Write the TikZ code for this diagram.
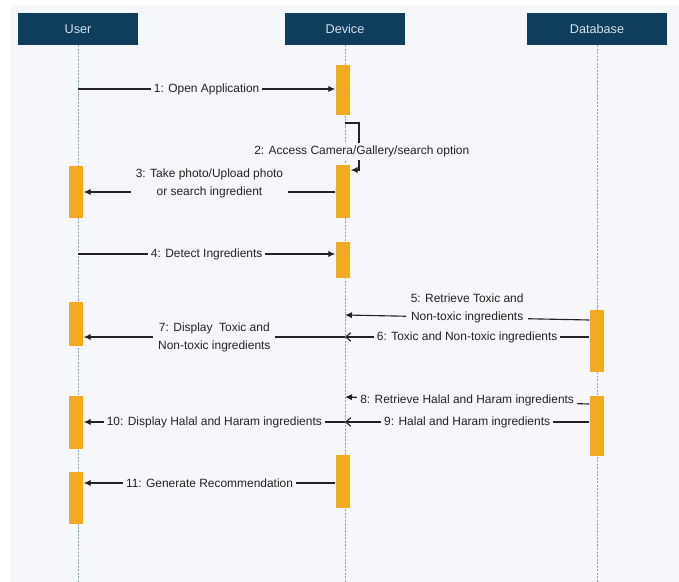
\documentclass[tikz,border=0pt]{standalone}
\usepackage{fontspec}
\setmainfont{Liberation Sans}
\usetikzlibrary{positioning,arrows.meta,calc}
\definecolor{HeadBlue}{RGB}{15,61,92}
\definecolor{HeadText}{RGB}{214,226,236}
\definecolor{BarOrange}{RGB}{242,170,32}
\definecolor{PanelGrey}{RGB}{246,247,251}
\definecolor{LineDark}{RGB}{35,35,35}
\definecolor{LifeGrey}{RGB}{145,165,185}

\begin{document}
\begin{tikzpicture}[
    x=0.025cm, y=-0.025cm,
    head/.style={rectangle, fill=HeadBlue, minimum height=0.8cm, inner sep=0,
        font=\fontsize{9}{11}\selectfont, text=HeadText},
    actbar/.style={rectangle, fill=BarOrange, minimum width=0.37cm, inner sep=0, anchor=north},
    life/.style={LifeGrey, line width=0.6pt, dash pattern=on 1.5pt off 1pt},
    msg/.style={LineDark, line width=0.8pt, -{Latex[length=5pt, width=4.5pt]}},
    reply/.style={LineDark, line width=0.8pt, -{Straight Barb[length=3.5pt, width=6pt]}},
    lbl/.style={font=\fontsize{8.5}{12.8}\selectfont, text=LineDark, fill=PanelGrey,
        inner sep=2pt, align=center},
    lbltwo/.style={lbl, inner sep=3.5pt, yshift=0.22cm}
]
% canvas
\useasboundingbox (0,0) rectangle (679,582);
\fill[white] (0,0) rectangle (679,582);
\fill[PanelGrey] (10,5) rectangle (679,582);

% participants
\node[head, minimum width=3.0cm] (user) at (78,29) {User};
\node[head, minimum width=3.0cm] (device) at (345,29) {Device};
\node[head, minimum width=3.5cm] (db) at (597,29) {Database};
\coordinate (userEnd) at (78,582);
\coordinate (deviceEnd) at (345,582);
\coordinate (dbEnd) at (597,582);
\draw[life] (user) -- (userEnd);
\draw[life] (device) -- (deviceEnd);
\draw[life] (db) -- (dbEnd);

% activation bars
\node[actbar, minimum height=1.25cm] (d1) at (343,65) {};
\node[actbar, minimum height=1.325cm] (d2) at (343,165) {};
\node[actbar, minimum height=1.3cm] (u1) at (76,166) {};
\node[actbar, minimum height=0.9cm] (d3) at (343,242) {};
\node[actbar, minimum height=1.1cm] (u2) at (76,302) {};
\node[actbar, minimum height=1.55cm] (db1) at (597,310) {};
\node[actbar, minimum height=1.325cm] (u3) at (76,396) {};
\node[actbar, minimum height=1.5cm] (db2) at (597,396) {};
\node[actbar, minimum height=1.325cm] (d4) at (343,455) {};
\node[actbar, minimum height=1.3cm] (u4) at (76,472) {};

% message rows
\coordinate (r1) at (0,89);
\coordinate (r2a) at (0,123);
\coordinate (r2b) at (0,170);
\coordinate (r3) at (0,192);
\coordinate (r4) at (0,254);
\coordinate (r5a) at (0,320);
\coordinate (r5b) at (0,315);
\coordinate (r6) at (0,337);
\coordinate (r8a) at (0,404);
\coordinate (r8b) at (0,397);
\coordinate (r9) at (0,422);
\coordinate (r11) at (0,483);

% messages
\draw[msg] (user |- r1) -- node[lbl] {1: Open Application} (d1.west |- r1);
\draw[msg] (device |- r2a) -- ++(14,0)
    -- node[lbl, pos=0.6, xshift=0.07cm] {2: Access Camera/Gallery/search option} ++(0,47)
    -- (d2.east |- r2b);
\draw[msg] (d2.west |- r3) -- node[lbltwo] {3: Take photo/Upload photo\\or search ingredient} (u1.east |- r3);
\draw[msg] (user |- r4) -- node[lbl] {4: Detect Ingredients} (d3.west |- r4);
\draw[msg] (db1.west |- r5a) -- node[lbltwo] {5: Retrieve Toxic and\\Non-toxic ingredients} (device |- r5b);
\draw[reply] (db1.west |- r6) -- node[lbl] {6: Toxic and Non-toxic ingredients} (device |- r6);
\draw[msg] (device |- r6) -- node[lbl, inner sep=3.5pt] {7: Display~ Toxic and\\Non-toxic ingredients} (u2.east |- r6);
\draw[msg] (db2.west |- r8a) -- node[lbl] {8: Retrieve Halal and Haram ingredients} (device |- r8b);
\draw[reply] (db2.west |- r9) -- node[lbl] {9: Halal and Haram ingredients} (device |- r9);
\draw[msg] (device |- r9) -- node[lbl] {10: Display Halal and Haram ingredients} (u3.east |- r9);
\draw[msg] (d4.west |- r11) -- node[lbl] {11: Generate Recommendation} (u4.east |- r11);
\end{tikzpicture}
\end{document}
